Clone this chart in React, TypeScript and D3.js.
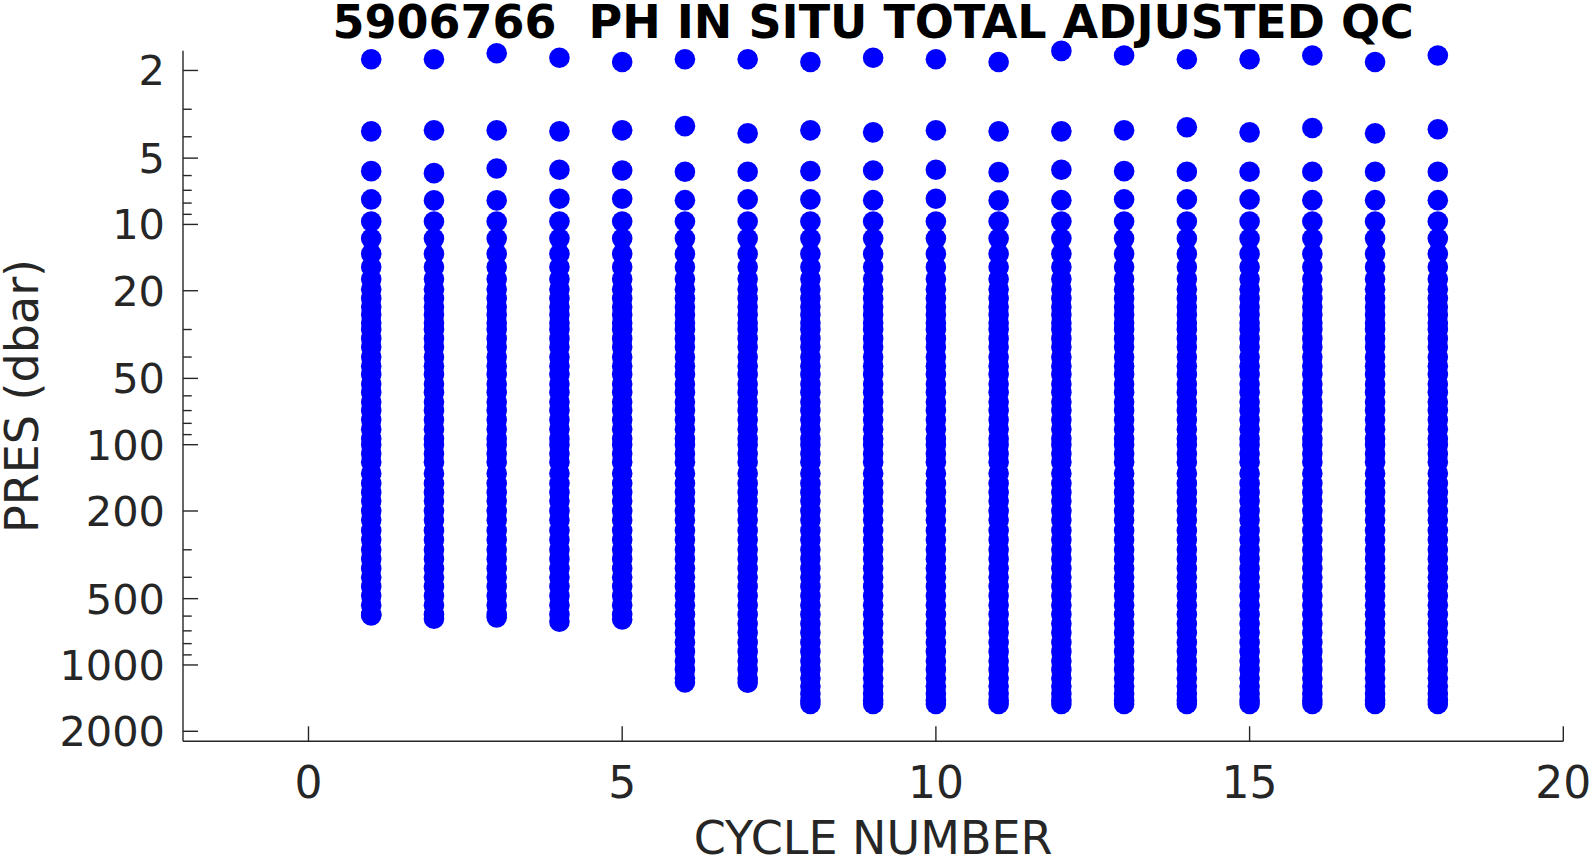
import React from "react";
import * as d3 from "d3";

const TITLE = "5906766  PH IN SITU TOTAL ADJUSTED QC";
const X_LABEL = "CYCLE NUMBER";
const Y_LABEL = "PRES (dbar)";

const cycles = [1, 2, 3, 4, 5, 6, 7, 8, 9, 10, 11, 12, 13, 14, 15, 16, 17, 18];
const level1 = [1.78, 1.78, 1.67, 1.75, 1.83, 1.78, 1.78, 1.83, 1.75, 1.78, 1.83, 1.63, 1.71, 1.78, 1.78, 1.71, 1.83, 1.71];
const level2 = [3.78, 3.74, 3.74, 3.78, 3.74, 3.58, 3.86, 3.74, 3.82, 3.74, 3.78, 3.78, 3.74, 3.62, 3.82, 3.65, 3.86, 3.7];
const level3 = [5.73, 5.85, 5.57, 5.65, 5.69, 5.77, 5.77, 5.73, 5.69, 5.65, 5.79, 5.65, 5.73, 5.77, 5.77, 5.77, 5.77, 5.77];
const level4 = [7.7, 7.78, 7.78, 7.65, 7.65, 7.76, 7.7, 7.7, 7.76, 7.65, 7.78, 7.76, 7.7, 7.7, 7.7, 7.76, 7.76, 7.76];
const maxPres = [596, 617, 608, 636, 621, 1200, 1204, 1503, 1503, 1503, 1503, 1503, 1503, 1503, 1503, 1503, 1503, 1503];
const deepLevels = [
  9.7, 11.6, 13.6, 15.6, 17.7, 19.7, 21.7, 23.7, 25.7, 28, 30, 33, 36, 40, 44, 48, 53, 58, 64, 70, 77, 85, 94,
  100, 110, 120, 135, 150, 165, 180, 200, 220, 245, 270, 300, 330, 365, 400, 440, 485, 535, 590, 650, 715, 790,
  870, 960, 1050, 1150, 1250, 1350, 1450,
];

const xTicks = [0, 5, 10, 15, 20];
const yMajorTicks = [2, 5, 10, 20, 50, 100, 200, 500, 1000, 2000];
const yMinorTicks = [3, 4, 6, 7, 8, 9, 30, 40, 60, 70, 80, 90, 300, 400, 600, 700, 800, 900];

const W = 1590;
const H = 857;
const left = 183;
const right = 1563.3;
const top = 50.7;
const bottom = 741.3;

export default function App() {
  const x = d3.scaleLinear().domain([-2, 20]).range([left, right]);
  const y = d3.scaleLog().domain([1.6268, 2221]).range([top, bottom]);

  const points: { c: number; p: number }[] = [];
  cycles.forEach((c, i) => {
    const ps = [level1[i], level2[i], level3[i], level4[i]];
    deepLevels.forEach((p) => {
      if (p < maxPres[i]) ps.push(p);
    });
    ps.push(maxPres[i]);
    ps.forEach((p) => points.push({ c, p }));
  });

  const axisColor = "#262626";
  const font = "'DejaVu Sans', sans-serif";

  return (
    <svg
      width={W}
      height={H}
      style={{ position: "fixed", left: 0, top: 0, background: "#fff" }}
      fontFamily={font}
    >
      <rect x={0} y={0} width={W} height={H} fill="#fff" />
      {points.map((d, i) => (
        <circle key={i} cx={x(d.c)} cy={y(d.p)} r={10.3} fill="#0000ff" />
      ))}
      {/* axes */}
      <line x1={left} x2={left} y1={top} y2={bottom} stroke={axisColor} strokeWidth={1.4} />
      <line x1={left} x2={right} y1={bottom} y2={bottom} stroke={axisColor} strokeWidth={1.4} />
      {yMajorTicks.map((t) => (
        <g key={"ym" + t}>
          <line x1={left} x2={left + 15} y1={y(t)} y2={y(t)} stroke={axisColor} strokeWidth={1.4} />
          <text x={165} y={y(t)} dy="0.36em" textAnchor="end" fontSize={41.5} fill={axisColor}>
            {t}
          </text>
        </g>
      ))}
      {yMinorTicks.map((t) => (
        <line key={"yn" + t} x1={left} x2={left + 8.7} y1={y(t)} y2={y(t)} stroke={axisColor} strokeWidth={1.4} />
      ))}
      {xTicks.map((t) => (
        <g key={"x" + t}>
          <line x1={x(t)} x2={x(t)} y1={bottom} y2={bottom - 15} stroke={axisColor} strokeWidth={1.4} />
          <text x={x(t)} y={798} textAnchor="middle" fontSize={44} fill={axisColor}>
            {t}
          </text>
        </g>
      ))}
      <text x={(left + right) / 2} y={854} textAnchor="middle" fontSize={46} fill={axisColor}>
        {X_LABEL}
      </text>
      <text
        transform={`translate(38, ${(top + bottom) / 2}) rotate(-90)`}
        textAnchor="middle"
        fontSize={46}
        fill={axisColor}
      >
        {Y_LABEL}
      </text>
      <text
        x={(left + right) / 2}
        y={38}
        textAnchor="middle"
        fontSize={46}
        fontWeight="bold"
        fill="#000"
        style={{ whiteSpace: "pre" }}
        xmlSpace="preserve"
      >
        {TITLE}
      </text>
    </svg>
  );
}
